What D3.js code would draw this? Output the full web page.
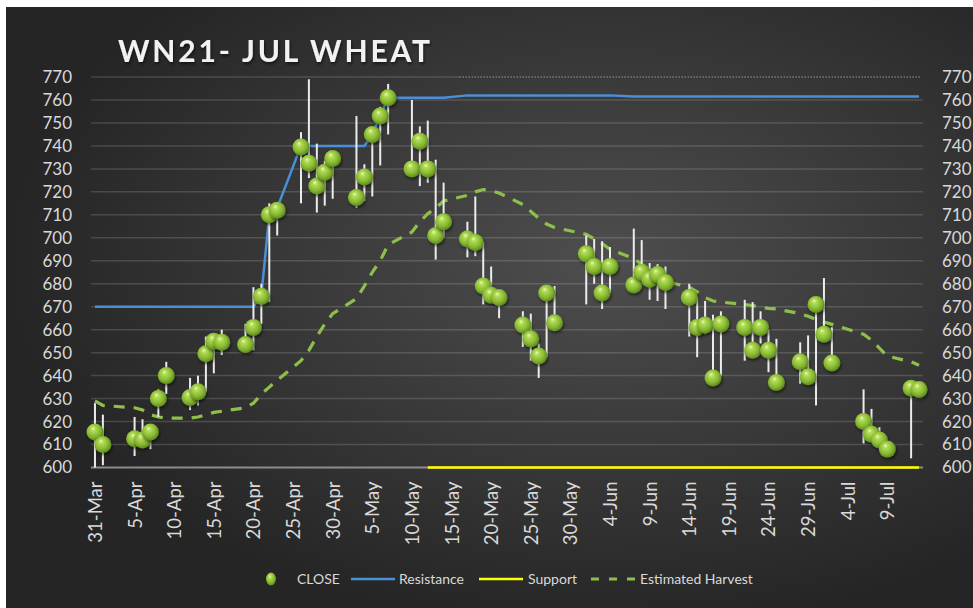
<!DOCTYPE html>
<html>
<head>
<meta charset="utf-8">
<script src="https://cdn.jsdelivr.net/npm/d3@7"></script>
<style>
  html, body { margin: 0; padding: 0; background: #fff; }
  svg { display: block; font-family: Lato, "Open Sans", sans-serif; }
</style>
</head>
<body>
<svg width="973" height="608"></svg>
<script>
// trading days, 31-Mar to 13-Jul 2021
var dates = ["2021-03-31","2021-04-01","2021-04-05","2021-04-06","2021-04-07","2021-04-08","2021-04-09",
  "2021-04-12","2021-04-13","2021-04-14","2021-04-15","2021-04-16","2021-04-19","2021-04-20","2021-04-21",
  "2021-04-22","2021-04-23","2021-04-26","2021-04-27","2021-04-28","2021-04-29","2021-04-30","2021-05-03",
  "2021-05-04","2021-05-05","2021-05-06","2021-05-07","2021-05-10","2021-05-11","2021-05-12","2021-05-13",
  "2021-05-14","2021-05-17","2021-05-18","2021-05-19","2021-05-20","2021-05-21","2021-05-24","2021-05-25",
  "2021-05-26","2021-05-27","2021-05-28","2021-06-01","2021-06-02","2021-06-03","2021-06-04","2021-06-07",
  "2021-06-08","2021-06-09","2021-06-10","2021-06-11","2021-06-14","2021-06-15","2021-06-16","2021-06-17",
  "2021-06-18","2021-06-21","2021-06-22","2021-06-23","2021-06-24","2021-06-25","2021-06-28","2021-06-29",
  "2021-06-30","2021-07-01","2021-07-02","2021-07-06","2021-07-07","2021-07-08","2021-07-09","2021-07-12",
  "2021-07-13"];

var closes = [615.5,610,612.5,612,615.5,630,640,630.5,633,649.5,655,654.5,653.5,661,674.5,
  710,712,739.5,732.5,722.5,728.5,734.5,717.5,726.5,745,753,761,730,742,730,701,
  707,699.5,698,679,675,674,662,656,648.5,676,663,693,687.5,676,687.5,679.5,
  685,682,684,680.5,674,661,662,639,662.5,661,651,661,651,637,646,639.5,
  671,658,645.5,620,614.5,612,608,634.5,634];

var highs = [628,623,622,621,618,634,646,639,640,657,658,660,662.5,678.5,680,
  715,715,746,769,741,733.5,737,753,732,748,757,767,760,748.5,751,734,
  724,707,718,698,687.5,677,668,667,654,678,679,701,699.5,698.5,696,704,
  699,689,688.5,687.5,680,674,672.5,666.5,668,673,672,668,660,656,654.5,657.5,
  673,682.5,661,634,625.5,617.5,610,636,636];

var lows = [600,601,605,609,608,622,632,625,627,633,641,649,650,651,662.5,
  672,701,715,726,711,714,717,713,716,718,731.5,745,729,722.5,724,690.5,
  700,691.5,692,671,672.5,665,652.5,646.5,639,648,661,671,680,669,676,676,
  682.5,673,672.5,669,657,648,658,638.5,640,646.5,650,654,641.5,636.5,636.5,636,
  627,655,644,610.5,613,610,606,604,632];

var resistance = [670,670,670,670,670,670,670,670,670,670,670,670,670,670,675,
  710,713,740,740,740,740,740,740,740,745,753,761,761,761,761,761,
  761,762,762,762,762,762,762,762,762,762,762,762,762,762,762,761.5,
  761.5,761.5,761.5,761.5,761.5,761.5,761.5,761.5,761.5,761.5,761.5,761.5,761.5,761.5,761.5,761.5,
  761.5,761.5,761.5,761.5,761.5,761.5,761.5,761.5,761.5];

var harvest = [629,627,626,625,623,622,621.5,621.5,622,623,624,624.5,626,628,632,
  635,638,646.5,651,657,662.5,667,673.5,679,685,690,697,702.5,707,710.5,713,
  716,718.5,720,721,720.5,719.5,714.5,711.5,708.5,706,704.5,701.5,699.5,697.5,695,691,
  688.5,686,683.5,681,678.5,676.5,674,672.5,672,671,670.5,669.7,669.3,669,667,665.8,
  664.5,663.3,662.3,658,655.5,652,648.5,646,644.5];

var supportStart = "2021-05-12";
var supportLevel = 600;
var ceilingStart = "2021-05-16";
var ceilingLevel = 770;

var yTicks = [600,610,620,630,640,650,660,670,680,690,700,710,720,730,740,750,760,770];
var xTickLabels = ["31-Mar","5-Apr","10-Apr","15-Apr","20-Apr","25-Apr","30-Apr","5-May","10-May",
  "15-May","20-May","25-May","30-May","4-Jun","9-Jun","14-Jun","19-Jun","24-Jun","29-Jun","4-Jul","9-Jul"];

var W = 973, H = 608;
var plotLeft = 91, plotRight = 923, plotTop = 77, plotBottom = 467.5;

var parse = d3.utcParse("%Y-%m-%d");
var parseTick = d3.utcParse("%d-%b-%Y");

var rows = dates.map(function(d, i) {
  return { date: parse(d), close: closes[i], high: highs[i], low: lows[i],
           resistance: resistance[i], harvest: harvest[i] };
});

var x = d3.scaleUtc()
  .domain([new Date(Date.UTC(2021, 2, 30, 12)), new Date(Date.UTC(2021, 6, 13, 12))])
  .range([plotLeft, plotRight]);
var y = d3.scaleLinear().domain([600, 770]).range([plotBottom, plotTop]);

var svg = d3.select("svg");
var defs = svg.append("defs");

var bg = defs.append("radialGradient").attr("id", "bg")
  .attr("cx", 0.62).attr("cy", 0.42).attr("r", 0.62);
bg.append("stop").attr("offset", "0%").attr("stop-color", "#4e4e4e");
bg.append("stop").attr("offset", "100%").attr("stop-color", "#252525");

var ball = defs.append("radialGradient").attr("id", "ball")
  .attr("cx", 0.45).attr("cy", 0.45).attr("r", 0.6).attr("fx", 0.38).attr("fy", 0.28);
ball.append("stop").attr("offset", "0%").attr("stop-color", "#eef8c0");
ball.append("stop").attr("offset", "22%").attr("stop-color", "#b2dc55");
ball.append("stop").attr("offset", "65%").attr("stop-color", "#86b832");
ball.append("stop").attr("offset", "100%").attr("stop-color", "#557f1a");

var shadow = defs.append("filter").attr("id", "shadow")
  .attr("x", "-30%").attr("y", "-30%").attr("width", "160%").attr("height", "170%");
shadow.append("feDropShadow").attr("dx", 1).attr("dy", 2).attr("stdDeviation", 1.5)
  .attr("flood-color", "#000").attr("flood-opacity", 0.55);

svg.append("rect").attr("width", W).attr("height", H).attr("fill", "#fff");
svg.append("rect").attr("x", 6).attr("y", 7).attr("width", W - 6).attr("height", H - 7)
  .attr("fill", "url(#bg)");

// title
svg.append("text")
  .attr("x", 118).attr("y", 62)
  .attr("textLength", 312).attr("lengthAdjust", "spacing")
  .attr("fill", "#f2f2f2")
  .attr("font-size", 30).attr("font-weight", 700)
  .attr("filter", "url(#shadow)")
  .text("WN21- JUL WHEAT");

// gridlines
svg.append("g").selectAll("line")
  .data(yTicks.filter(function(v) { return v > 600 && v < 770; }))
  .enter().append("line")
  .attr("x1", plotLeft).attr("x2", plotRight)
  .attr("y1", function(d) { return y(d); }).attr("y2", function(d) { return y(d); })
  .attr("stroke", "rgba(255,255,255,0.15)").attr("stroke-width", 1.5);

// top gridline, solid then dotted
svg.append("line")
  .attr("x1", plotLeft).attr("x2", x(parse(ceilingStart)))
  .attr("y1", y(ceilingLevel)).attr("y2", y(ceilingLevel))
  .attr("stroke", "rgba(255,255,255,0.15)").attr("stroke-width", 1.5);
svg.append("line")
  .attr("x1", x(parse(ceilingStart))).attr("x2", plotRight - 2)
  .attr("y1", y(ceilingLevel)).attr("y2", y(ceilingLevel))
  .attr("stroke", "#9a9a9a").attr("stroke-width", 1).attr("stroke-dasharray", "1.5,1.5");

// axis base line
svg.append("line")
  .attr("x1", plotLeft).attr("x2", plotRight)
  .attr("y1", y(600)).attr("y2", y(600))
  .attr("stroke", "#8c8c8c").attr("stroke-width", 2);

// y axes
var yAxisL = svg.append("g").attr("transform", "translate(" + (plotLeft - 19) + ",0)")
  .call(d3.axisLeft(y).tickValues(yTicks).tickSize(0).tickPadding(0));
var yAxisR = svg.append("g").attr("transform", "translate(" + (plotRight + 19) + ",0)")
  .call(d3.axisRight(y).tickValues(yTicks).tickSize(0).tickPadding(0));
[yAxisL, yAxisR].forEach(function(g) {
  g.select(".domain").remove();
  g.selectAll("text").attr("fill", "#d9d9d9").attr("font-size", 17)
    .attr("font-family", "Lato, sans-serif");
});

// x axis
var tickDates = xTickLabels.map(function(s) { return parseTick(s + "-2021"); });
var xAxis = svg.append("g").attr("transform", "translate(0," + (plotBottom + 14) + ")")
  .call(d3.axisBottom(x).tickValues(tickDates).tickSize(0).tickPadding(0)
    .tickFormat(function(d, i) { return xTickLabels[i]; }));
xAxis.select(".domain").remove();
xAxis.selectAll("text")
  .attr("fill", "#d9d9d9").attr("font-size", 18.5).attr("font-family", "Lato, sans-serif")
  .attr("text-anchor", "end")
  .attr("transform", "rotate(-90)")
  .attr("x", 0).attr("y", 0).attr("dy", "0.35em");

// series lines
var harvestLine = d3.line().x(function(d) { return x(d.date); }).y(function(d) { return y(d.harvest); });
svg.append("path").datum(rows).attr("d", harvestLine)
  .attr("fill", "none").attr("stroke", "#8fbf4b").attr("stroke-width", 3.2)
  .attr("stroke-dasharray", "11,9");

var resLine = d3.line().x(function(d) { return x(d.date); }).y(function(d) { return y(d.resistance); });
svg.append("path").datum(rows).attr("d", resLine)
  .attr("fill", "none").attr("stroke", "#4a8fd8").attr("stroke-width", 2.5);

var supportRows = rows.filter(function(d) { return d.date >= parse(supportStart); });
var supLine = d3.line().x(function(d) { return x(d.date); }).y(function() { return y(supportLevel); });
svg.append("path").datum(supportRows).attr("d", supLine)
  .attr("fill", "none").attr("stroke", "#ffff00").attr("stroke-width", 2.5);

// high-low bars
svg.append("g").selectAll("line")
  .data(rows).enter().append("line")
  .attr("x1", function(d) { return x(d.date); }).attr("x2", function(d) { return x(d.date); })
  .attr("y1", function(d) { return y(d.high); }).attr("y2", function(d) { return y(d.low); })
  .attr("stroke", "#ececec").attr("stroke-width", 2);

// close markers
svg.append("g").selectAll("circle")
  .data(rows).enter().append("circle")
  .attr("cx", function(d) { return x(d.date); })
  .attr("cy", function(d) { return y(d.close); })
  .attr("r", 8.5)
  .attr("fill", "url(#ball)")
  .attr("filter", "url(#shadow)");

// legend
var lg = svg.append("g").attr("font-size", 14).attr("fill", "#d9d9d9");
lg.append("ellipse").attr("cx", 271).attr("cy", 579).attr("rx", 5).attr("ry", 6.5)
  .attr("fill", "url(#ball)");
lg.append("text").attr("x", 297).attr("y", 584).text("CLOSE");
lg.append("line").attr("x1", 351).attr("x2", 395).attr("y1", 579).attr("y2", 579)
  .attr("stroke", "#4a8fd8").attr("stroke-width", 2.5);
lg.append("text").attr("x", 399).attr("y", 584).text("Resistance");
lg.append("line").attr("x1", 479).attr("x2", 523).attr("y1", 579).attr("y2", 579)
  .attr("stroke", "#ffff00").attr("stroke-width", 2.5);
lg.append("text").attr("x", 528).attr("y", 584).text("Support");
lg.append("line").attr("x1", 591).attr("x2", 636).attr("y1", 579).attr("y2", 579)
  .attr("stroke", "#8fbf4b").attr("stroke-width", 3.2).attr("stroke-dasharray", "8,10");
lg.append("text").attr("x", 640).attr("y", 584).text("Estimated Harvest");
</script>
</body>
</html>
